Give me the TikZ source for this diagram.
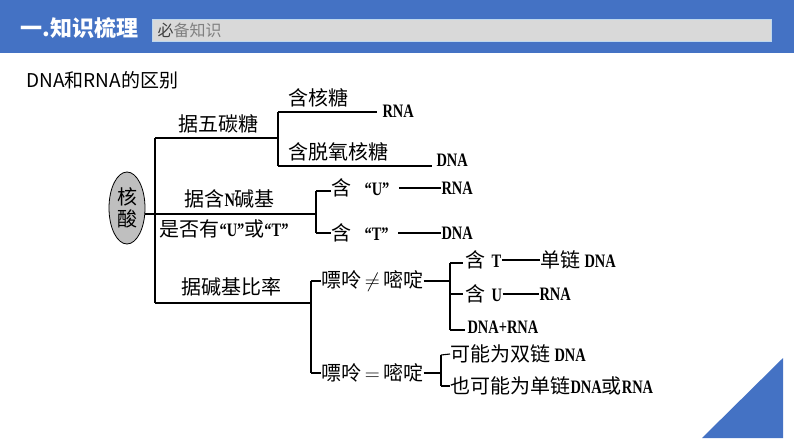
\documentclass[tikz,border=0pt]{standalone}
\usepackage{fontspec}
\setmainfont{Liberation Serif}
\newfontfamily\cjk{Noto Sans CJK SC}
\newfontfamily\latn[FakeStretch=0.76]{Liberation Serif Bold}
\newcommand\lt[1]{{\latn\fontsize{19}{19}\selectfont #1}}
\usetikzlibrary{positioning,shapes.geometric}
\definecolor{hdrblue}{HTML}{4472C4}
\definecolor{boxgray}{HTML}{D9D9D9}
\definecolor{boxline}{HTML}{BDD7EE}
\definecolor{nucgray}{HTML}{BFBFBF}

\begin{document}
\begin{tikzpicture}[x=1pt,y=-1pt,
    zh/.style={inner sep=0pt,anchor=west,font=\cjk\fontsize{20}{20}\selectfont},
    lat/.style={inner sep=0pt,anchor=west,font=\latn\fontsize{19}{19}\selectfont},
    every path/.style={line width=1.1pt}]
\useasboundingbox (0,0) rectangle (794,447);

% header
\fill[hdrblue] (0,0) rectangle (794,53);
\draw[boxline,fill=boxgray,line width=1pt] (152,19) rectangle (771,41);
\node[inner sep=0pt,anchor=west,text=white,font=\cjk\bfseries\fontsize{22}{22}\selectfont] (hdr) at (20,28) {一.知识梳理};
\node[inner sep=0pt,anchor=west,text=gray,font=\cjk\fontsize{16}{16}\selectfont] (sub) at (157,30) {{\color{darkgray}必}备知识};
\node[inner sep=0pt,anchor=west,font=\cjk\fontsize{19}{19}\selectfont] (ttl) at (26,80) {DNA和RNA的区别};
\fill[hdrblue] (702,438) -- (783,438) -- (783,358) -- cycle;

% root
\node[ellipse,draw,fill=nucgray,line width=0.8pt,minimum width=36pt,minimum height=72pt,
      inner sep=0pt,align=center,font=\cjk\fontsize{20}{22}\selectfont] (nuc) at (127,208) {核\\酸};
\coordinate (hub) at (155,214);
\coordinate (b1) at (155,138);
\coordinate (b3) at (155,303);
\draw (nuc.east |- hub) -- (hub);
\draw (b1) -- (b3);

% five-carbon sugar
\coordinate (s1) at (278,138);
\coordinate (s1a) at (278,112);
\coordinate (s1b) at (278,166);
\node[zh] (tPent) at (178,124) {据五碳糖};
\node[zh] (tRibo) at (288,98) {含核糖};
\node[lat] (rna1) at (382,111) {RNA};
\node[zh] (tDeox) at (288,152) {含脱氧核糖};
\node[lat] (dna1) at (436,160) {DNA};
\draw (b1) -- (s1);
\draw (s1a) -- (s1b);
\draw (s1a) -- ([xshift=-5pt]s1a -| rna1.west);
\draw (s1b) -- ([xshift=-4pt]s1b -| dna1.west);

% bases
\coordinate (s2) at (316,214);
\coordinate (s2a) at (316,191);
\coordinate (s2b) at (316,233);
\node[zh] (tBase) at (184,199) {据含\lt{N}碱基};
\node[zh] (tUT) at (159,229) {是否有\lt{“U”}或\lt{“T”}};
\node[zh] (hasU) at (331,188) {含\hspace{13pt}\lt{“U”}};
\node[lat] (rna2) at (441,188) {RNA};
\node[zh] (hasT) at (331,233) {含\hspace{13pt}\lt{“T”}};
\node[lat] (dna2) at (441,233) {DNA};
\draw (hub) -- (s2);
\draw (s2a) -- (s2b);
\draw (s2a) -- (s2a -| hasU.west);
\draw (s2b) -- (s2b -| hasT.west);
\draw ([xshift=9pt]hasU.east) -- (rna2.west);
\draw ([xshift=9pt]hasT.east) -- (dna2.west);

% base ratio
\coordinate (s3a) at (311,281);
\coordinate (s3b) at (311,373);
\coordinate (s3) at (311,303);
\node[zh] (tRatio) at (181,287) {据碱基比率};
\node[zh] (neq) at (321,281) {嘌呤\,$\neq$\,嘧啶};
\node[zh] (eq) at (321,373) {嘌呤\,$=$\,嘧啶};
\draw (b3) -- (s3);
\draw (s3a) -- (s3b);
\draw (s3a) -- (neq.west);
\draw (s3b) -- (eq.west);

% purine != pyrimidine
\coordinate (s4) at (450,281);
\coordinate (s4a) at (450,263);
\coordinate (s4b) at (450,330);
\node[zh] (hasT2) at (465,260) {含\hspace{6pt}\lt{T}};
\node[zh] (ss1) at (540,260) {单链\hspace{4pt}\lt{DNA}};
\node[zh] (hasU2) at (465,294) {含\hspace{6pt}\lt{U}};
\node[lat] (rna3) at (539,294) {RNA};
\node[lat] (mix) at (467,327) {DNA+RNA};
\draw (neq.east) -- (s4);
\draw (s4a) -- (s4b);
\draw (s4a) -- ([xshift=-2pt]s4a -| hasT2.west);
\draw (s4 |- hasU2) -- ([xshift=-2pt]hasU2.west);
\draw (s4b) -- ([xshift=-2pt]s4b -| mix.west);
\draw (hasT2.east) -- (ss1.west);
\draw (hasU2.east) -- (rna3.west);

% purine = pyrimidine
\coordinate (s5a) at (441,355);
\coordinate (s5b) at (441,386);
\node[zh] (ds) at (450,354) {可能为双链\hspace{4pt}\lt{DNA}};
\node[zh] (ssr) at (450,386) {也可能为单链\lt{DNA}或\lt{RNA}};
\draw (eq.east) -- (eq.east -| s5a);
\draw (s5a) -- (s5b);
\draw (s5a) -- (ds.west);
\draw (s5b) -- (ssr.west);
\end{tikzpicture}
\end{document}
